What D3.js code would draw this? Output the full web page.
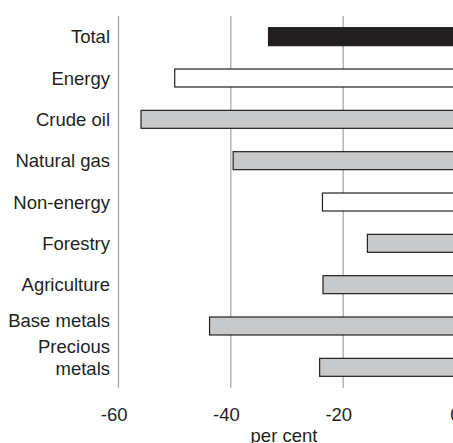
<!DOCTYPE html>
<html lang="en">
<head>
<meta charset="UTF-8">
<title>commodity prices</title>
<script src="https://d3js.org/d3.v7.min.js"></script>
<style>
  body { margin: 0; background: #fff; }
  svg text { font-family: "Liberation Sans", Arial, Helvetica, sans-serif; fill: #231f20; }
</style>
</head>
<body>
<div id="chart"></div>
<script>
// categories, top to bottom
var categories = ["Total", "Energy", "Crude oil", "Natural gas", "Non-energy",
                  "Forestry", "Agriculture", "Base metals", "Precious metals"];
// change, per cent
var values = [-33.2, -49.9, -55.9, -39.5, -23.6, -15.6, -23.5, -43.7, -24.1];
// bar kind: total / group / component
var kinds = ["total", "group", "part", "part", "group", "part", "part", "part", "part"];
var tickValues = [-60, -40, -20, 0];
var axisTitle = "per cent";

var WIDTH = 453, HEIGHT = 443, FONT = 18.5;
var fills = { total: "#231f20", group: "#ffffff", part: "#c8c9ca" };

var svg = d3.select("#chart").append("svg")
    .attr("width", WIDTH)
    .attr("height", HEIGHT);

var x = d3.scaleLinear().domain([-60, 0]).range([118, 455]);
var y = d3.scaleBand().domain(categories).range([16, 388])
    .paddingInner(0.565).paddingOuter(0.2825);

// grid + tick labels
var axis = svg.append("g")
    .attr("transform", "translate(0,388)")
    .call(d3.axisBottom(x).tickValues(tickValues).tickSize(-372).tickPadding(20)
        .tickFormat(function (d) { return d === 0 ? "0" : "-" + Math.abs(d); }));
axis.select(".domain").remove();
axis.selectAll(".tick line").attr("stroke", "#a7a9ab").attr("stroke-width", 1.3);
axis.selectAll(".tick text")
    .attr("font-size", FONT)
    .attr("fill", "#231f20")
    .attr("dx", function (d) { return d < 0 ? -4.4 : 0; });

// bars
svg.append("g").selectAll("rect")
    .data(categories)
    .enter().append("rect")
    .attr("x", function (d, i) { return x(values[i]); })
    .attr("y", function (d) { return y(d); })
    .attr("width", function (d, i) { return x(0) - x(values[i]); })
    .attr("height", y.bandwidth())
    .attr("fill", function (d, i) { return fills[kinds[i]]; })
    .attr("stroke", "#231f20")
    .attr("stroke-width", 1.2);

// category labels (long ones wrap onto two lines)
var labels = svg.append("g").selectAll("text")
    .data(categories)
    .enter().append("text")
    .attr("text-anchor", "end")
    .attr("font-size", FONT)
    .attr("y", function (d) {
        var c = y(d) + y.bandwidth() / 2;
        if (d === "Base metals") c -= 6; // nudged up to make room
        return c;
    });

labels.each(function (d) {
    var words = d === "Precious metals" ? ["Precious", "metals"] : [d];
    var t = d3.select(this);
    var y0 = +t.attr("y");
    words.forEach(function (w, k) {
        t.append("tspan")
            .attr("x", 110)
            .attr("y", words.length > 1 ? y0 - 14.5 + k * 22 : y0 + 6.8)
            .text(w);
    });
});

svg.append("text")
    .attr("x", 284)
    .attr("y", 442)
    .attr("text-anchor", "middle")
    .attr("font-size", FONT)
    .text(axisTitle);
</script>
</body>
</html>
